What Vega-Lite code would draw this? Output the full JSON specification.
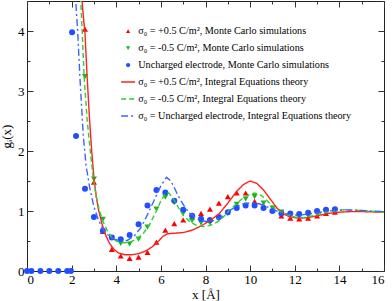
{
  "$schema": "https://vega.github.io/schema/vega-lite/v6.json",
  "width": 357,
  "height": 270,
  "autosize": {"type": "none"},
  "padding": {"left": 27, "top": 1, "right": 8, "bottom": 30},
  "background": "white",
  "config": {
    "view": {"stroke": "#222", "strokeWidth": 1},
    "font": "Liberation Serif",
    "legend": {"labelFont": "Liberation Serif", "labelFontSize": 10.2},
    "axis": {"grid": false, "domain": false, "tickColor": "#333", "tickWidth": 1, "labelFont": "Liberation Serif", "labelFontSize": 13, "labelColor": "#000", "titleFont": "Liberation Serif", "titleFontSize": 13, "titleFontWeight": "normal", "titleColor": "#000"}
  },
  "datasets": {
    "mc": [
      {"x": 2.6, "y": 4.03, "s": "a"}, {"x": 3.0, "y": 1.48, "s": "a"}, {"x": 3.4, "y": 0.66, "s": "a"}, {"x": 3.8, "y": 0.36, "s": "a"}, {"x": 4.2, "y": 0.25, "s": "a"}, {"x": 4.6, "y": 0.21, "s": "a"}, {"x": 5.0, "y": 0.23, "s": "a"}, {"x": 5.4, "y": 0.31, "s": "a"}, {"x": 5.8, "y": 0.48, "s": "a"}, {"x": 6.2, "y": 0.68, "s": "a"}, {"x": 6.6, "y": 0.79, "s": "a"}, {"x": 7.0, "y": 0.85, "s": "a"}, {"x": 7.4, "y": 0.9, "s": "a"}, {"x": 7.8, "y": 0.96, "s": "a"}, {"x": 8.2, "y": 1.03, "s": "a"}, {"x": 8.6, "y": 1.13, "s": "a"}, {"x": 9.0, "y": 1.24, "s": "a"}, {"x": 9.4, "y": 1.3, "s": "a"}, {"x": 9.8, "y": 1.3, "s": "a"}, {"x": 10.2, "y": 1.16, "s": "a"}, {"x": 10.6, "y": 1.09, "s": "a"}, {"x": 11.0, "y": 1.02, "s": "a"}, {"x": 11.4, "y": 0.92, "s": "a"}, {"x": 11.8, "y": 0.88, "s": "a"}, {"x": 12.2, "y": 0.87, "s": "a"}, {"x": 12.6, "y": 0.88, "s": "a"}, {"x": 13.0, "y": 0.92, "s": "a"}, {"x": 13.4, "y": 0.96, "s": "a"}, {"x": 13.8, "y": 0.98, "s": "a"},
      {"x": 2.6, "y": 3.24, "s": "b"}, {"x": 3.0, "y": 1.53, "s": "b"}, {"x": 3.4, "y": 0.86, "s": "b"}, {"x": 3.8, "y": 0.55, "s": "b"}, {"x": 4.2, "y": 0.46, "s": "b"}, {"x": 4.6, "y": 0.45, "s": "b"}, {"x": 5.0, "y": 0.53, "s": "b"}, {"x": 5.4, "y": 0.73, "s": "b"}, {"x": 5.8, "y": 1.03, "s": "b"}, {"x": 6.2, "y": 1.23, "s": "b"}, {"x": 6.6, "y": 1.14, "s": "b"}, {"x": 7.0, "y": 0.96, "s": "b"}, {"x": 7.4, "y": 0.84, "s": "b"}, {"x": 7.8, "y": 0.8, "s": "b"}, {"x": 8.2, "y": 0.8, "s": "b"}, {"x": 8.6, "y": 0.86, "s": "b"}, {"x": 9.0, "y": 0.96, "s": "b"}, {"x": 9.4, "y": 1.11, "s": "b"}, {"x": 9.8, "y": 1.2, "s": "b"}, {"x": 10.2, "y": 1.24, "s": "b"}, {"x": 10.6, "y": 1.13, "s": "b"}, {"x": 11.0, "y": 1.05, "s": "b"}, {"x": 11.4, "y": 0.98, "s": "b"}, {"x": 11.8, "y": 0.92, "s": "b"}, {"x": 12.2, "y": 0.91, "s": "b"}, {"x": 12.6, "y": 0.92, "s": "b"}, {"x": 13.0, "y": 0.96, "s": "b"}, {"x": 13.4, "y": 0.99, "s": "b"}, {"x": 13.8, "y": 1.0, "s": "b"},
      {"x": 0.0, "y": 0, "s": "c"}, {"x": 0.2, "y": 0, "s": "c"}, {"x": 0.6, "y": 0, "s": "c"}, {"x": 1.0, "y": 0, "s": "c"}, {"x": 1.4, "y": 0, "s": "c"}, {"x": 1.8, "y": 0, "s": "c"}, {"x": 1.97, "y": 0, "s": "c"}, {"x": 2.02, "y": 3.98, "s": "c"}, {"x": 2.2, "y": 2.25, "s": "c"}, {"x": 2.6, "y": 1.37, "s": "c"}, {"x": 3.0, "y": 0.9, "s": "c"}, {"x": 3.4, "y": 0.67, "s": "c"}, {"x": 3.8, "y": 0.56, "s": "c"}, {"x": 4.2, "y": 0.53, "s": "c"}, {"x": 4.6, "y": 0.6, "s": "c"}, {"x": 5.0, "y": 0.78, "s": "c"}, {"x": 5.4, "y": 1.09, "s": "c"}, {"x": 5.8, "y": 1.35, "s": "c"}, {"x": 6.2, "y": 1.31, "s": "c"}, {"x": 6.6, "y": 1.17, "s": "c"}, {"x": 7.0, "y": 1.02, "s": "c"}, {"x": 7.4, "y": 0.92, "s": "c"}, {"x": 7.8, "y": 0.87, "s": "c"}, {"x": 8.2, "y": 0.85, "s": "c"}, {"x": 8.6, "y": 0.9, "s": "c"}, {"x": 9.0, "y": 0.98, "s": "c"}, {"x": 9.4, "y": 1.05, "s": "c"}, {"x": 9.8, "y": 1.09, "s": "c"}, {"x": 10.2, "y": 1.09, "s": "c"}, {"x": 10.6, "y": 1.05, "s": "c"}, {"x": 11.0, "y": 1.0, "s": "c"}, {"x": 11.4, "y": 0.96, "s": "c"}, {"x": 11.8, "y": 0.96, "s": "c"}, {"x": 12.2, "y": 0.95, "s": "c"}, {"x": 12.6, "y": 0.97, "s": "c"}, {"x": 13.0, "y": 1.0, "s": "c"}, {"x": 13.4, "y": 1.02, "s": "c"}, {"x": 13.8, "y": 1.03, "s": "c"}
    ],
    "ie": [
      {"x": 2.43, "y": 4.7, "s": "d"}, {"x": 2.5, "y": 4.35, "s": "d"}, {"x": 2.6, "y": 3.95, "s": "d"}, {"x": 2.7, "y": 3.2, "s": "d"}, {"x": 2.8, "y": 2.55, "s": "d"}, {"x": 2.9, "y": 2.0, "s": "d"}, {"x": 3.0, "y": 1.55, "s": "d"}, {"x": 3.1, "y": 1.25, "s": "d"}, {"x": 3.2, "y": 1.03, "s": "d"}, {"x": 3.35, "y": 0.8, "s": "d"}, {"x": 3.5, "y": 0.62, "s": "d"}, {"x": 3.7, "y": 0.46, "s": "d"}, {"x": 3.9, "y": 0.36, "s": "d"}, {"x": 4.1, "y": 0.3, "s": "d"}, {"x": 4.4, "y": 0.27, "s": "d"}, {"x": 4.7, "y": 0.27, "s": "d"}, {"x": 5.0, "y": 0.29, "s": "d"}, {"x": 5.3, "y": 0.33, "s": "d"}, {"x": 5.6, "y": 0.4, "s": "d"}, {"x": 5.9, "y": 0.5, "s": "d"}, {"x": 6.1, "y": 0.58, "s": "d"}, {"x": 6.3, "y": 0.62, "s": "d"}, {"x": 6.6, "y": 0.63, "s": "d"}, {"x": 7.0, "y": 0.64, "s": "d"}, {"x": 7.4, "y": 0.68, "s": "d"}, {"x": 7.8, "y": 0.75, "s": "d"}, {"x": 8.2, "y": 0.84, "s": "d"}, {"x": 8.6, "y": 0.95, "s": "d"}, {"x": 9.0, "y": 1.13, "s": "d"}, {"x": 9.4, "y": 1.33, "s": "d"}, {"x": 9.7, "y": 1.44, "s": "d"}, {"x": 10.0, "y": 1.5, "s": "d"}, {"x": 10.3, "y": 1.46, "s": "d"}, {"x": 10.6, "y": 1.35, "s": "d"}, {"x": 10.9, "y": 1.2, "s": "d"}, {"x": 11.2, "y": 1.05, "s": "d"}, {"x": 11.5, "y": 0.95, "s": "d"}, {"x": 11.8, "y": 0.9, "s": "d"}, {"x": 12.2, "y": 0.88, "s": "d"}, {"x": 12.6, "y": 0.89, "s": "d"}, {"x": 13.0, "y": 0.92, "s": "d"}, {"x": 13.5, "y": 0.96, "s": "d"}, {"x": 14.0, "y": 0.98, "s": "d"}, {"x": 14.5, "y": 0.99, "s": "d"}, {"x": 15.0, "y": 0.99, "s": "d"}, {"x": 16.0, "y": 0.98, "s": "d"},
      {"x": 2.38, "y": 4.7, "s": "e"}, {"x": 2.45, "y": 4.2, "s": "e"}, {"x": 2.56, "y": 3.24, "s": "e"}, {"x": 2.7, "y": 2.5, "s": "e"}, {"x": 2.85, "y": 1.95, "s": "e"}, {"x": 2.97, "y": 1.55, "s": "e"}, {"x": 3.1, "y": 1.25, "s": "e"}, {"x": 3.25, "y": 1.0, "s": "e"}, {"x": 3.4, "y": 0.83, "s": "e"}, {"x": 3.6, "y": 0.67, "s": "e"}, {"x": 3.8, "y": 0.56, "s": "e"}, {"x": 4.0, "y": 0.5, "s": "e"}, {"x": 4.3, "y": 0.47, "s": "e"}, {"x": 4.6, "y": 0.48, "s": "e"}, {"x": 4.9, "y": 0.53, "s": "e"}, {"x": 5.2, "y": 0.62, "s": "e"}, {"x": 5.5, "y": 0.78, "s": "e"}, {"x": 5.8, "y": 1.0, "s": "e"}, {"x": 6.0, "y": 1.17, "s": "e"}, {"x": 6.2, "y": 1.29, "s": "e"}, {"x": 6.35, "y": 1.3, "s": "e"}, {"x": 6.5, "y": 1.24, "s": "e"}, {"x": 6.8, "y": 1.05, "s": "e"}, {"x": 7.0, "y": 0.93, "s": "e"}, {"x": 7.3, "y": 0.82, "s": "e"}, {"x": 7.6, "y": 0.76, "s": "e"}, {"x": 7.9, "y": 0.74, "s": "e"}, {"x": 8.2, "y": 0.76, "s": "e"}, {"x": 8.5, "y": 0.81, "s": "e"}, {"x": 8.8, "y": 0.9, "s": "e"}, {"x": 9.1, "y": 1.02, "s": "e"}, {"x": 9.4, "y": 1.13, "s": "e"}, {"x": 9.7, "y": 1.22, "s": "e"}, {"x": 10.0, "y": 1.28, "s": "e"}, {"x": 10.2, "y": 1.3, "s": "e"}, {"x": 10.5, "y": 1.26, "s": "e"}, {"x": 10.8, "y": 1.16, "s": "e"}, {"x": 11.1, "y": 1.05, "s": "e"}, {"x": 11.4, "y": 0.98, "s": "e"}, {"x": 11.7, "y": 0.93, "s": "e"}, {"x": 12.0, "y": 0.9, "s": "e"}, {"x": 12.4, "y": 0.89, "s": "e"}, {"x": 12.8, "y": 0.92, "s": "e"}, {"x": 13.2, "y": 0.96, "s": "e"}, {"x": 13.6, "y": 0.99, "s": "e"}, {"x": 14.2, "y": 1.02, "s": "e"}, {"x": 14.9, "y": 1.01, "s": "e"}, {"x": 16.0, "y": 0.98, "s": "e"},
      {"x": 2.15, "y": 4.7, "s": "f"}, {"x": 2.27, "y": 4.0, "s": "f"}, {"x": 2.37, "y": 3.24, "s": "f"}, {"x": 2.52, "y": 2.26, "s": "f"}, {"x": 2.65, "y": 1.75, "s": "f"}, {"x": 2.82, "y": 1.37, "s": "f"}, {"x": 3.0, "y": 1.07, "s": "f"}, {"x": 3.2, "y": 0.85, "s": "f"}, {"x": 3.4, "y": 0.7, "s": "f"}, {"x": 3.6, "y": 0.61, "s": "f"}, {"x": 3.9, "y": 0.53, "s": "f"}, {"x": 4.2, "y": 0.5, "s": "f"}, {"x": 4.5, "y": 0.51, "s": "f"}, {"x": 4.8, "y": 0.58, "s": "f"}, {"x": 5.1, "y": 0.72, "s": "f"}, {"x": 5.4, "y": 0.94, "s": "f"}, {"x": 5.7, "y": 1.18, "s": "f"}, {"x": 6.0, "y": 1.42, "s": "f"}, {"x": 6.25, "y": 1.56, "s": "f"}, {"x": 6.45, "y": 1.5, "s": "f"}, {"x": 6.65, "y": 1.35, "s": "f"}, {"x": 6.85, "y": 1.2, "s": "f"}, {"x": 7.1, "y": 1.05, "s": "f"}, {"x": 7.3, "y": 0.96, "s": "f"}, {"x": 7.55, "y": 0.89, "s": "f"}, {"x": 7.8, "y": 0.84, "s": "f"}, {"x": 8.1, "y": 0.82, "s": "f"}, {"x": 8.4, "y": 0.84, "s": "f"}, {"x": 8.7, "y": 0.9, "s": "f"}, {"x": 9.1, "y": 1.01, "s": "f"}, {"x": 9.4, "y": 1.08, "s": "f"}, {"x": 9.7, "y": 1.12, "s": "f"}, {"x": 10.1, "y": 1.14, "s": "f"}, {"x": 10.4, "y": 1.12, "s": "f"}, {"x": 10.7, "y": 1.08, "s": "f"}, {"x": 11.0, "y": 1.03, "s": "f"}, {"x": 11.4, "y": 0.97, "s": "f"}, {"x": 11.8, "y": 0.94, "s": "f"}, {"x": 12.2, "y": 0.93, "s": "f"}, {"x": 12.6, "y": 0.95, "s": "f"}, {"x": 13.0, "y": 0.97, "s": "f"}, {"x": 13.5, "y": 1.0, "s": "f"}, {"x": 14.2, "y": 1.02, "s": "f"}, {"x": 15.0, "y": 1.01, "s": "f"}, {"x": 16.0, "y": 0.99, "s": "f"}
    ]
  },
  "encoding": {
    "color": {
      "field": "s",
      "type": "nominal",
      "scale": {"domain": ["a", "b", "c", "d", "e", "f"], "range": ["#ff0000", "#1fb51f", "#1f4fff", "#ff2020", "#2fcf2f", "#3a66ff"]},
      "legend": {
        "orient": "none",
        "direction": "vertical",
        "columns": 1,
        "legendX": 96,
        "legendY": 25,
        "title": null,
        "padding": 0,
        "symbolSize": 196,
        "symbolStrokeWidth": 1.5,
        "labelFont": "Liberation Serif",
        "labelFontSize": 10.2,
        "labelColor": "#000",
        "labelLimit": 320,
        "labelOffset": 5,
        "rowPadding": 6,
        "labelExpr": "datum.value == 'a' ? 'σ₀ = +0.5 C/m², Monte Carlo simulations' : datum.value == 'b' ? 'σ₀ = -0.5 C/m², Monte Carlo simulations' : datum.value == 'c' ? 'Uncharged electrode, Monte Carlo simulations' : datum.value == 'd' ? 'σ₀ = +0.5 C/m², Integral Equations theory' : datum.value == 'e' ? 'σ₀ = -0.5 C/m², Integral Equations theory' : 'σ₀ = Uncharged electrode, Integral Equations theory'",
        "encode": {
          "symbols": {
            "update": {
              "shape": {"scale": "shape", "field": "value"},
              "strokeDash": {"scale": "strokeDash", "field": "value"},
              "fill": {"scale": "color", "field": "value"},
              "stroke": {"scale": "color", "field": "value"},
              "size": {"signal": "indexof(['a','b','c'], datum.value) >= 0 ? 18 : 196"},
              "strokeWidth": {"signal": "indexof(['a','b','c'], datum.value) >= 0 ? 0 : 1.5"},
              "opacity": {"value": 1}
            }
          }
        }
      }
    }
  },
  "layer": [
    {
      "data": {"name": "mc"},
      "mark": {"type": "point", "filled": true, "size": 36, "opacity": 1},
      "encoding": {
        "x": {
          "field": "x", "type": "quantitative",
          "scale": {"domain": [0, 16], "nice": false, "zero": false},
          "axis": {
            "orient": "bottom",
            "title": "x [Å]",
            "values": [0, 1, 2, 3, 4, 5, 6, 7, 8, 9, 10, 11, 12, 13, 14, 15, 16],
            "tickSize": {"condition": {"test": "datum.value % 2 === 0", "value": -6}, "value": -3},
            "labelExpr": "datum.value % 2 === 0 ? datum.label : ''",
            "labelPadding": 8,
            "titlePadding": 2
          }
        },
        "y": {
          "field": "y", "type": "quantitative",
          "scale": {"domain": [0, 4.5], "nice": false, "zero": false},
          "axis": {
            "orient": "left",
            "title": "gᵢ(x)",
            "values": [0, 0.5, 1, 1.5, 2, 2.5, 3, 3.5, 4, 4.5],
            "format": ".1f",
            "tickSize": {"condition": {"test": "datum.value % 1 === 0", "value": -6}, "value": -3},
            "labelExpr": "datum.value % 1 === 0 && datum.value <= 4 ? format(datum.value, 'd') : ''",
            "labelPadding": 9,
            "titlePadding": 4
          }
        },
        "shape": {
          "field": "s", "type": "nominal",
          "scale": {"domain": ["a", "b", "c", "d", "e", "f"], "range": ["triangle-up", "triangle-down", "circle", "stroke", "stroke", "stroke"]},
          "legend": null
        }
      }
    },
    {
      "data": {"name": "ie"},
      "mark": {"type": "line", "clip": true, "strokeWidth": 1.4},
      "encoding": {
        "x": {
          "field": "x", "type": "quantitative",
          "scale": {"domain": [0, 16], "nice": false, "zero": false},
          "axis": {
            "orient": "top",
            "title": null,
            "labels": false,
            "values": [0, 1, 2, 3, 4, 5, 6, 7, 8, 9, 10, 11, 12, 13, 14, 15, 16],
            "tickSize": {"condition": {"test": "datum.value % 2 === 0", "value": -6}, "value": -3}
          }
        },
        "y": {
          "field": "y", "type": "quantitative",
          "scale": {"domain": [0, 4.5], "nice": false, "zero": false},
          "axis": {
            "orient": "right",
            "title": null,
            "labels": false,
            "values": [0, 0.5, 1, 1.5, 2, 2.5, 3, 3.5, 4, 4.5],
            "tickSize": {"condition": {"test": "datum.value % 1 === 0", "value": -6}, "value": -3}
          }
        },
        "strokeDash": {
          "field": "s", "type": "nominal",
          "scale": {"domain": ["a", "b", "c", "d", "e", "f"], "range": [[1, 0], [1, 0], [1, 0], [1, 0], [5, 3], [7, 3, 2, 3]]},
          "legend": null
        }
      }
    }
  ],
  "resolve": {"axis": {"x": "independent", "y": "independent"}}
}
